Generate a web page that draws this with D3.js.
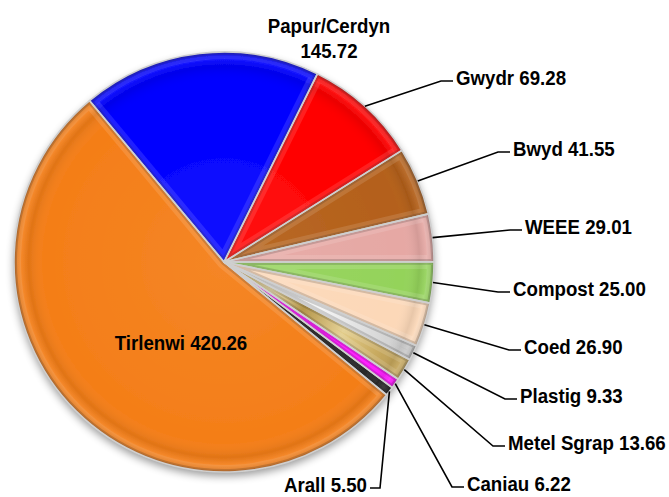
<!DOCTYPE html>
<html><head><meta charset="utf-8">
<script src="https://cdn.jsdelivr.net/npm/d3@7"></script>
<style>
html,body{margin:0;padding:0;background:#fff;}
svg{display:block;}
text{font-family:"Liberation Sans",Arial,sans-serif;font-weight:bold;fill:#000;}
</style></head>
<body>
<svg id="chart" width="669" height="497"></svg>
<script>
// ---- data ----
const categories = ["Papur/Cerdyn","Gwydr","Bwyd","WEEE","Compost","Coed","Plastig","Metel Sgrap","Caniau","Arall","Tirlenwi"];
const values = [145.72,69.28,41.55,29.01,25.00,26.90,9.33,13.66,6.22,5.50,420.26];
const valueLabels = ["145.72","69.28","41.55","29.01","25.00","26.90","9.33","13.66","6.22","5.50","420.26"];
const colors = ["#0000FF","#FF0000","#B4601A","#E6A8A4","#94D35A","#FCD8B8","#D8D8D8","#CDB063","#FF00FF","#111111","#F47E18"];

// ---- layout (label anchors) ----
const W = 669, H = 497;
const cx = 224, cy = 262, R = 210;
const startDeg = -39.8;
const labelLayout = [
  {x:329, y:25, anchor:"middle", two:true, leader:false},
  {x:456, y:77, anchor:"start", leader:true},
  {x:513, y:148, anchor:"start", leader:true},
  {x:525, y:226, anchor:"start", leader:true},
  {x:513, y:288, anchor:"start", leader:true},
  {x:524, y:346, anchor:"start", leader:true},
  {x:520, y:395, anchor:"start", leader:true},
  {x:508, y:442, anchor:"start", leader:true},
  {x:467, y:483, anchor:"start", leader:true},
  {x:367, y:484, anchor:"end", leader:true},
  {x:181, y:342, anchor:"middle", leader:false}
];

const svg = d3.select("#chart");
const defs = svg.append("defs");

// shadow filter
const f = defs.append("filter").attr("id","shadow").attr("x","-20%").attr("y","-20%").attr("width","140%").attr("height","140%");
f.append("feGaussianBlur").attr("in","SourceAlpha").attr("stdDeviation",4).attr("result","b");
f.append("feOffset").attr("in","b").attr("dx",0).attr("dy",4).attr("result","o");
f.append("feComponentTransfer").attr("in","o").attr("result","o2")
  .append("feFuncA").attr("type","linear").attr("slope",0.4);
const fm = f.append("feMerge");
fm.append("feMergeNode").attr("in","o2");
fm.append("feMergeNode").attr("in","SourceGraphic");

// bevel radial gradient (local coords, pie centred at 0,0)
const rg = defs.append("radialGradient").attr("id","bevel").attr("gradientUnits","userSpaceOnUse")
  .attr("cx",0).attr("cy",0).attr("r",R);
[[0,"#fff",0.06],[0.86,"#fff",0],[0.93,"#000",0.08],[0.965,"#fff",0.08],[0.99,"#000",0.08],[1,"#000",0.30]]
  .forEach(s=>rg.append("stop").attr("offset",s[0]).attr("stop-color",s[1]).attr("stop-opacity",s[2]));

// gold & silver gradients
const gold = defs.append("linearGradient").attr("id","gold").attr("x1","0").attr("y1","0").attr("x2","1").attr("y2","0.3");
[[0,"#B8953A"],[0.3,"#E9D8A0"],[0.5,"#A9852C"],[0.75,"#E2CB87"],[1,"#C4A55A"]]
  .forEach(s=>gold.append("stop").attr("offset",s[0]).attr("stop-color",s[1]));
const silver = defs.append("linearGradient").attr("id","silver").attr("x1","0").attr("y1","0").attr("x2","1").attr("y2","0");
[[0,"#C8C8C8"],[0.5,"#F4F4F4"],[1,"#BEBEBE"]]
  .forEach(s=>silver.append("stop").attr("offset",s[0]).attr("stop-color",s[1]));
const fills = colors.slice();
fills[6] = "url(#silver)";
fills[7] = "url(#gold)";

const toRad = d => d*Math.PI/180;
const pie = d3.pie().sort(null).value(d=>d)
  .startAngle(toRad(startDeg)).endAngle(toRad(startDeg+360));
const arcs = pie(values);
const arc = d3.arc().innerRadius(0).outerRadius(R);

const g = svg.append("g").attr("transform",`translate(${cx},${cy})`);
const shadowG = g.append("g").attr("filter","url(#shadow)");

arcs.forEach((a,i)=>{
  defs.append("clipPath").attr("id","clip"+i).append("path").attr("d",arc(a));
});

const sl = shadowG.selectAll("g.slice").data(arcs).enter().append("g").attr("class","slice");
sl.append("path").attr("d",arc).attr("fill",(d,i)=>fills[i]);
sl.append("path").attr("d",arc).attr("fill","url(#bevel)");

// inner edge bevel
const edgeG = g.append("g");
arcs.forEach((a,i)=>{
  edgeG.append("path").attr("d",arc(a))
    .attr("fill","none").attr("stroke","rgba(0,0,0,0.18)").attr("stroke-width",6)
    .attr("clip-path",`url(#clip${i})`);
  edgeG.append("path").attr("d",arc(a))
    .attr("fill","none").attr("stroke","rgba(255,255,255,0.12)").attr("stroke-width",14)
    .attr("clip-path",`url(#clip${i})`);
});
// borders
g.append("g").selectAll("path").data(arcs).enter().append("path")
  .attr("d",arc).attr("fill","none").attr("stroke","#CFCFCF").attr("stroke-width",1.6).attr("stroke-linejoin","round");

// ---- labels ----
const fs = 21, sx = 0.89;
const lab = svg.append("g");
function addText(x,y,anchor,str){
  lab.append("text").attr("transform",`translate(${x},${y}) scale(${sx},1)`)
    .attr("dy","0.36em").attr("text-anchor",anchor).attr("font-size",fs).text(str);
}
arcs.forEach((a,i)=>{
  const L = labelLayout[i];
  const mid = (a.startAngle+a.endAngle)/2;
  if(L.leader){
    const px = cx + R*Math.sin(mid), py = cy - R*Math.cos(mid);
    const ly = L.y + 4;
    const pts = L.anchor==="end"
      ? [[px,py],[L.x+13,ly],[L.x+3,ly]]
      : [[px,py],[L.x-15,ly],[L.x-3,ly]];
    lab.append("path").attr("d",d3.line()(pts)).attr("fill","none").attr("stroke","#000").attr("stroke-width",1.6);
  }
  if(L.two){
    addText(L.x,L.y,"middle",categories[i]);
    addText(L.x,L.y+25,"middle",valueLabels[i]);
  } else {
    addText(L.x,L.y,L.anchor,categories[i]+" "+valueLabels[i]);
  }
});
</script>
</body></html>
